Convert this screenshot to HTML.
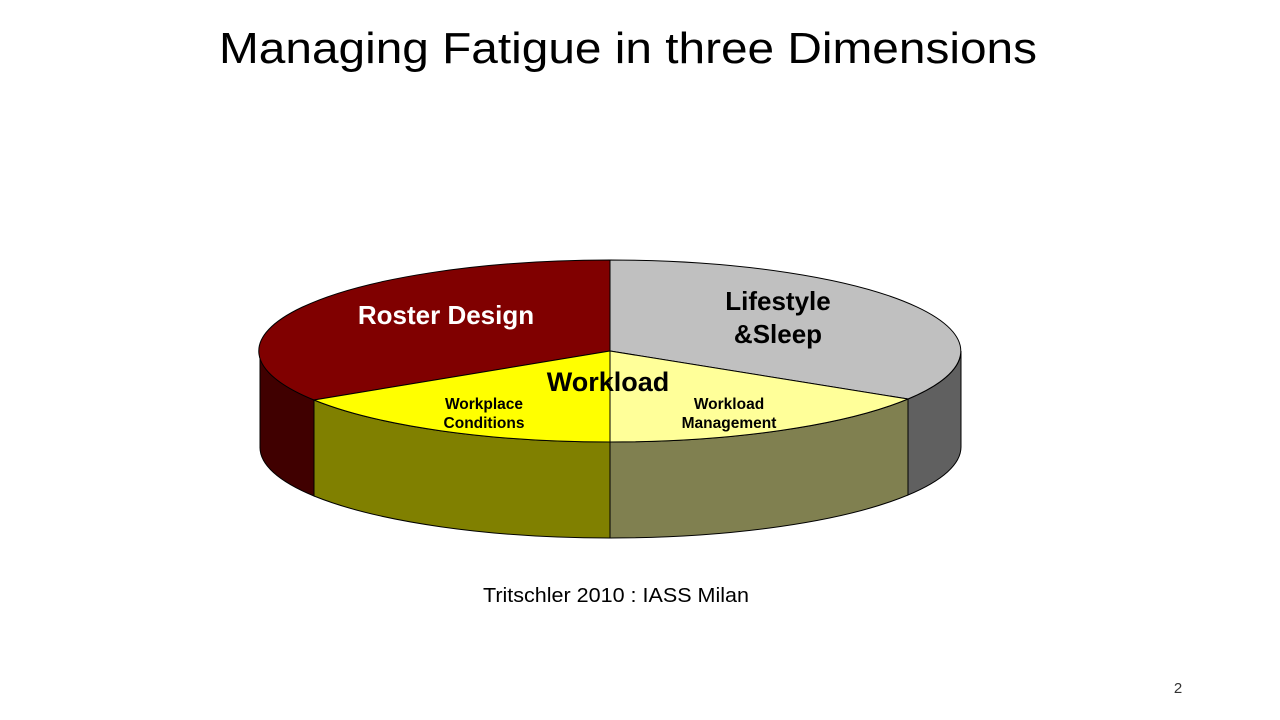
<!DOCTYPE html>
<html><head><meta charset="utf-8"><style>
body{margin:0;width:1280px;height:720px;background:#fff;overflow:hidden;font-family:"Liberation Sans",sans-serif}
</style></head><body>
<svg width="1280" height="720" xmlns="http://www.w3.org/2000/svg" style="position:absolute;left:0;top:0">
<text x="219" y="63" font-size="44" textLength="818" lengthAdjust="spacingAndGlyphs" font-family="Liberation Sans, sans-serif" fill="#000">Managing Fatigue in three Dimensions</text>
<g stroke="#000" stroke-width="1">
<path d="M260,351 A351,91 0 0 0 314,400 L314,496 A351,91 0 0 1 260,447 Z" fill="#400000"/>
<path d="M314,400 A351,91 0 0 0 610,442 L610,538 A351,91 0 0 1 314,496 Z" fill="#808000"/>
<path d="M610,442 A351,91 0 0 0 908,399 L908,495 A351,91 0 0 1 610,538 Z" fill="#808050"/>
<path d="M908,399 A351,91 0 0 0 961,351 L961,447 A351,91 0 0 1 908,495 Z" fill="#606060"/>
<path d="M610,351 L610,260 A351,91 0 0 0 314,400 Z" fill="#800000"/>
<path d="M610,351 L610,260 A351,91 0 0 1 908,399 Z" fill="#c0c0c0"/>
<path d="M610,351 L314,400 A351,91 0 0 0 610,442 Z" fill="#ffff00"/>
<path d="M610,351 L610,442 A351,91 0 0 0 908,399 Z" fill="#ffff99"/>
</g>
<g font-family="Liberation Sans, sans-serif" font-weight="bold" text-anchor="middle">
<text x="446" y="324" font-size="26" fill="#fff">Roster Design</text>
<text x="778" y="310" font-size="26" fill="#000">Lifestyle</text>
<text x="778" y="343" font-size="26" fill="#000">&amp;Sleep</text>
<text x="608" y="391" font-size="27" fill="#000">Workload</text>
<text x="484" y="409" font-size="15.5" fill="#000">Workplace</text>
<text x="484" y="428" font-size="15.5" fill="#000">Conditions</text>
<text x="729" y="409" font-size="15.5" fill="#000">Workload</text>
<text x="729" y="428" font-size="15.5" fill="#000">Management</text>
</g>
<text x="483" y="602" font-size="20" textLength="266" lengthAdjust="spacingAndGlyphs" fill="#000">Tritschler 2010 : IASS Milan</text>
<text x="1178" y="693" font-size="15" text-anchor="middle" fill="#333">2</text>
</svg>
</body></html>
